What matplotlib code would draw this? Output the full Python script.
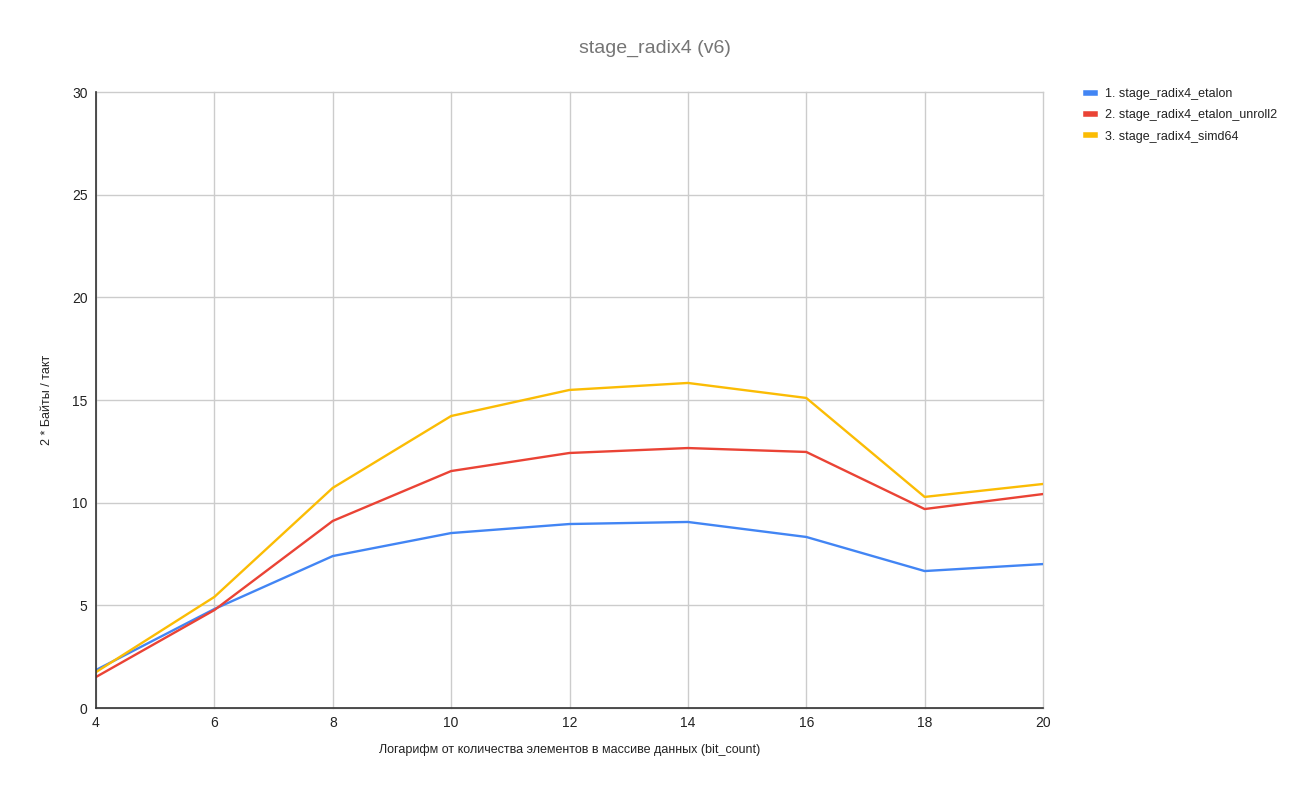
import matplotlib
matplotlib.use("Agg")
import matplotlib.pyplot as plt
from matplotlib.lines import Line2D

plt.rcParams['font.family'] = ['Liberation Sans', 'DejaVu Sans']

x = [4, 6, 8, 10, 12, 14, 16, 18, 20]
etalon = [1.85, 4.82, 7.40, 8.52, 8.96, 9.06, 8.33, 6.67, 7.01]
unroll2 = [1.51, 4.77, 9.11, 11.54, 12.42, 12.66, 12.47, 9.69, 10.42]
simd64 = [1.75, 5.41, 10.72, 14.22, 15.49, 15.83, 15.10, 10.28, 10.91]
names = ["1. stage_radix4_etalon", "2. stage_radix4_etalon_unroll2", "3. stage_radix4_simd64"]
colors = ["#4285F4", "#EA4335", "#FBBC04"]
xticks = [4, 6, 8, 10, 12, 14, 16, 18, 20]
yticks = [0, 5, 10, 15, 20, 25, 30]

fig = plt.figure(figsize=(13, 7.95), dpi=100)
ax = fig.add_axes([96/1300, 1-708/795, (1043-96)/1300, (708-92)/795])

for ys, c in zip([etalon, unroll2, simd64], colors):
    ax.plot(x, ys, color=c, lw=1.7, solid_joinstyle='round', zorder=3)

ax.set_xlim(4, 20)
ax.set_ylim(0, 30)
ax.set_xticks(xticks)
ax.set_yticks(yticks)
ax.grid(True, color="#cccccc", lw=1)
for gl in ax.get_xgridlines() + ax.get_ygridlines():
    gl.set_clip_on(False)
ax.set_axisbelow(True)
for s in ['top', 'right']:
    ax.spines[s].set_visible(False)
for s in ['left', 'bottom']:
    ax.spines[s].set_color('#333333')
    ax.spines[s].set_linewidth(1.2)
    ax.spines[s].set_zorder(4)
ax.tick_params(length=0, labelsize=10, colors='#222222', pad=6)

ax.set_xlabel("Логарифм от количества элементов в массиве данных (bit_count)", fontsize=9, color='#222222')
ax.set_ylabel("2 * Байты / такт", fontsize=9, color='#222222')
ax.xaxis.set_label_coords(0.5, -(744-708)/616)
ax.yaxis.set_label_coords(-(96-53)/947, 0.5)

fig.text(655/1300, 1-48/795, "stage_radix4 (v6)", ha='center', va='center', fontsize=14, color='#757575')

handles = [Line2D([0], [0], color=c, lw=4) for c in colors]
leg = fig.legend(handles, names, loc='upper left', bbox_to_anchor=(1081/1300, 1-83/795),
                 frameon=False, fontsize=9, handlelength=0.75, handletextpad=0.8, labelspacing=0.75,
                 borderaxespad=0)
for t in leg.get_texts():
    t.set_color('#222222')

fig.savefig("out.png", dpi=100)
